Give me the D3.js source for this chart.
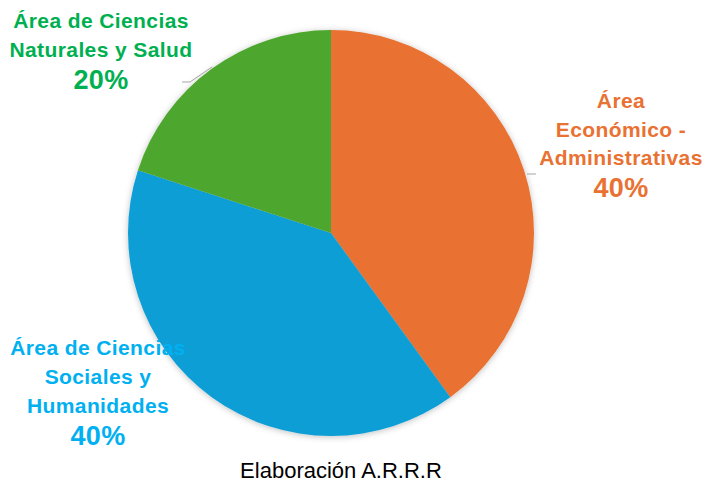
<!DOCTYPE html>
<meta charset="utf-8">
<style>
body { margin: 0; background: #fff; }
.lbl { font-family: "Liberation Sans", Arial, sans-serif; font-weight: bold; letter-spacing: 0.4px; }
.caption { font-family: "Liberation Sans", Arial, sans-serif; font-size: 22px; fill: #000; }
</style>
<svg width="704" height="483"></svg>
<script src="https://d3js.org/d3.v7.min.js"></script>
<script>

// data
var areas = ["Área Económico - Administrativas", "Área de Ciencias Sociales y Humanidades", "Área de Ciencias Naturales y Salud"];
var shares = [40, 40, 20];
var sliceColors = ["#E97132", "#0F9ED5", "#4EA72E"];
var textColors = ["#E97132", "#00B0F0", "#00B050"];
var labelLines = [
  ["Área", "Económico -", "Administrativas"],
  ["Área de Ciencias", "Sociales y", "Humanidades"],
  ["Área de Ciencias", "Naturales y Salud"]
];

var svg = d3.select("svg");
var cx = 331, cy = 233, r = 203;

var defs = svg.append("defs");
var f = defs.append("filter").attr("id", "shadow")
    .attr("x", "-10%").attr("y", "-10%").attr("width", "120%").attr("height", "120%");
f.append("feDropShadow").attr("dx", 0).attr("dy", 1).attr("stdDeviation", 3)
    .attr("flood-color", "#000").attr("flood-opacity", 0.25);

var pie = d3.pie().sort(null).value(function(d) { return d; });
var arc = d3.arc().innerRadius(0).outerRadius(r);
var arcs = pie(shares);

var g = svg.append("g").attr("transform", "translate(" + cx + "," + cy + ")");

g.append("g").attr("filter", "url(#shadow)")
  .selectAll("path")
  .data(arcs)
  .enter().append("path")
    .attr("d", arc)
    .attr("fill", function(d, i) { return sliceColors[i]; });

// leader lines
svg.append("polyline")
    .attr("points", "182,82 190,82 212,67")
    .attr("fill", "none").attr("stroke", "#a6a6a6").attr("stroke-width", 1);
svg.append("line")
    .attr("x1", 527).attr("y1", 174).attr("x2", 536).attr("y2", 174)
    .attr("stroke", "#a6a6a6").attr("stroke-width", 1);

// label anchors (x center, first line baseline, line step)
var labelPos = [
  { x: 621, y: 108, step: 28.5 },
  { x: 98, y: 355, step: 29 },
  { x: 101, y: 28, step: 29 }
];

arcs.forEach(function(d, i) {
  var p = labelPos[i];
  var t = svg.append("text").attr("class", "lbl")
      .attr("text-anchor", "middle")
      .attr("fill", textColors[i]);
  labelLines[i].forEach(function(line, j) {
    t.append("tspan").attr("x", p.x).attr("y", p.y + j * p.step)
      .attr("font-size", 21).text(line);
  });
  var n = labelLines[i].length;
  t.append("tspan").attr("x", p.x).attr("y", p.y + n * p.step + 3)
    .attr("font-size", 27).text(shares[i] + "%");
});

svg.append("text").attr("class", "caption")
    .attr("x", 341).attr("y", 478)
    .attr("text-anchor", "middle")
    .text("Elaboración A.R.R.R");

</script>
